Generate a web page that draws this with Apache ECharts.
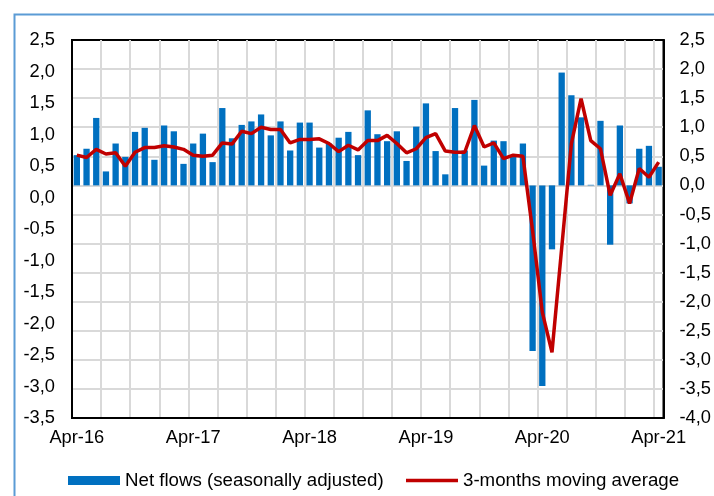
<!DOCTYPE html>
<html>
<head>
<meta charset="utf-8">
<script src="https://cdn.jsdelivr.net/npm/echarts@6/dist/echarts.min.js"></script>
<style>
html,body{margin:0;padding:0;background:#fff;}
#chart{width:714px;height:496px;}
</style>
</head>
<body>
<div id="chart"></div>
<script>
const categories = [
 'Apr-16','May-16','Jun-16','Jul-16','Aug-16','Sep-16','Oct-16','Nov-16','Dec-16','Jan-17','Feb-17','Mar-17',
 'Apr-17','May-17','Jun-17','Jul-17','Aug-17','Sep-17','Oct-17','Nov-17','Dec-17','Jan-18','Feb-18','Mar-18',
 'Apr-18','May-18','Jun-18','Jul-18','Aug-18','Sep-18','Oct-18','Nov-18','Dec-18','Jan-19','Feb-19','Mar-19',
 'Apr-19','May-19','Jun-19','Jul-19','Aug-19','Sep-19','Oct-19','Nov-19','Dec-19','Jan-20','Feb-20','Mar-20',
 'Apr-20','May-20','Jun-20','Jul-20','Aug-20','Sep-20','Oct-20','Nov-20','Dec-20','Jan-21','Feb-21','Mar-21',
 'Apr-21'
];
const netFlows = [
 0.52,0.63,1.16,0.24,0.72,0.49,0.92,0.99,0.44,1.03,0.93,0.37,
 0.72,0.89,0.40,1.33,0.81,1.04,1.10,1.22,0.86,1.10,0.60,1.08,
 1.08,0.65,0.72,0.82,0.92,0.52,1.29,0.88,0.76,0.93,0.42,1.01,
 1.41,0.59,0.19,1.33,0.60,1.47,0.34,0.77,0.76,0.49,0.72,-2.85,
 -3.45,-1.10,1.94,1.55,1.17,0.01,1.11,-1.02,1.03,-0.31,0.63,0.68,
 0.32
];
const movingAvg = [
 0.52,0.48,0.62,0.54,0.56,0.33,0.57,0.65,0.65,0.68,0.66,0.62,
 0.52,0.50,0.52,0.73,0.71,0.93,0.89,1.00,0.96,0.96,0.73,0.79,
 0.79,0.80,0.72,0.58,0.69,0.61,0.77,0.77,0.86,0.72,0.56,0.63,
 0.82,0.89,0.59,0.57,0.57,1.03,0.66,0.73,0.46,0.52,0.50,-0.78,
 -2.18,-2.87,-1.08,0.72,1.49,0.77,0.63,-0.17,0.20,-0.31,0.29,0.14,
 0.40
];
const seriesNames = ['Net flows (seasonally adjusted)', '3-months moving average'];

const fmt = v => v.toFixed(1).replace('.', ',');
const FONT = 'Liberation Sans, Arial, sans-serif';
const chart = echarts.init(document.getElementById('chart'), null, {renderer: 'canvas'});
chart.setOption({
  animation: false,
  backgroundColor: '#fff',
  textStyle: {fontFamily: FONT},
  graphic: [{
    type: 'rect', left: 12, top: 12, silent: true,
    shape: {width: 740, height: 520},
    style: {fill: 'none', stroke: '#5b9bd5', lineWidth: 2}
  }],
  grid: {left: 72, right: 46, top: 40, bottom: 78, show: true, borderColor: '#000', borderWidth: 2, backgroundColor: 'transparent'},
  legend: [{
    data: [seriesNames[0]], left: 68, top: 471, padding: 0,
    itemWidth: 52, itemHeight: 9, icon: 'rect', itemGap: 5,
    textStyle: {fontSize: 18.7, color: '#000', fontFamily: FONT}
  }, {
    data: [seriesNames[1]], left: 406, top: 471, padding: 0,
    itemWidth: 52, itemHeight: 3.5, icon: 'rect',
    textStyle: {fontSize: 18.7, color: '#000', fontFamily: FONT}
  }],
  xAxis: {
    type: 'category', data: categories, boundaryGap: true,
    axisLine: {show: true, onZero: false, lineStyle: {color: '#000', width: 2}}, axisTick: {show: false},
    axisLabel: {interval: 11, margin: 11, fontSize: 18.3, color: '#000', fontFamily: FONT},
    splitLine: {show: true, interval: 2, showMinLine: false, showMaxLine: false, lineStyle: {color: '#d9d9d9', width: 2}}
  },
  yAxis: [{
    type: 'value', position: 'left', min: -3.5, max: 2.5, interval: 0.5,
    axisLine: {show: true, lineStyle: {color: '#000', width: 2}}, axisTick: {show: false}, splitLine: {show: false},
    axisLabel: {margin: 17, fontSize: 18.3, color: '#000', fontFamily: FONT, formatter: fmt}
  }, {
    type: 'value', position: 'right', min: -4, max: 2.5, interval: 0.5,
    axisLine: {show: true, lineStyle: {color: '#000', width: 2}}, axisTick: {show: false},
    splitLine: {show: true, showMinLine: false, showMaxLine: false, lineStyle: {color: '#d9d9d9', width: 2}},
    axisLabel: {margin: 16, fontSize: 18.3, color: '#000', fontFamily: FONT, formatter: fmt}
  }],
  series: [{
    name: seriesNames[0], type: 'bar', yAxisIndex: 1, data: netFlows,
    barWidth: '65%', itemStyle: {color: '#0070c0'}
  }, {
    name: seriesNames[1], type: 'line', yAxisIndex: 1, data: movingAvg,
    symbol: 'none', lineStyle: {color: '#c00000', width: 3.5}, itemStyle: {color: '#c00000'}, z: 3
  }]
});
</script>
</body>
</html>
